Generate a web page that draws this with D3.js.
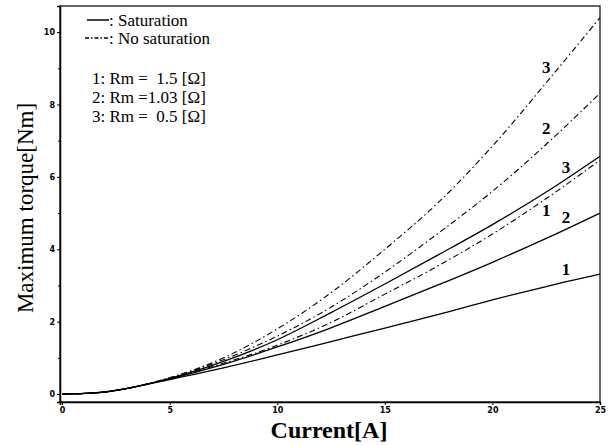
<!DOCTYPE html>
<html>
<head>
<meta charset="utf-8">
<script src="https://cdn.jsdelivr.net/npm/d3@7"></script>
<style>
  body { margin: 0; background: #fff; }
  svg { display: block; }
  .tick text { font-family: "DejaVu Sans", sans-serif; font-size: 8px; font-weight: bold; }
  .title { font-family: "Liberation Serif", serif; fill: #000; }
  .lbl { font-family: "Liberation Serif", serif; font-size: 17px; fill: #000; }
</style>
</head>
<body>
<div id="chart"></div>
<script>
// data
const current = [0, 1.5, 2.5, 5, 7.5, 10, 12.5, 15, 17.5, 20, 22.5, 25];
const sat1   = [0, 0.03, 0.1, 0.4, 0.72, 1.08, 1.45, 1.82, 2.2, 2.6, 2.97, 3.31];
const sat2   = [0, 0.03, 0.1, 0.42, 0.82, 1.3, 1.83, 2.42, 3.02, 3.64, 4.3, 5.0];
const sat3   = [0, 0.03, 0.1, 0.43, 0.9, 1.5, 2.25, 3.04, 3.85, 4.68, 5.58, 6.57];
const noSat1 = [0, 0.03, 0.1, 0.43, 0.85, 1.35, 1.98, 2.76, 3.55, 4.42, 5.4, 6.46];
const noSat2 = [0, 0.03, 0.1, 0.45, 0.95, 1.6, 2.4, 3.37, 4.45, 5.6, 6.9, 8.31];
const noSat3 = [0, 0.03, 0.1, 0.45, 1.0, 1.8, 2.8, 4.0, 5.3, 6.85, 8.6, 10.4];
const xTicks = [0, 5, 10, 15, 20, 25];
const yTicks = [0, 2, 4, 6, 8, 10];
const yMinor = [1, 3, 5, 7, 9];
const legendRm = ["1: Rm =  1.5 [\u03a9]", "2: Rm =1.03 [\u03a9]", "3: Rm =  0.5 [\u03a9]"];

const w = 612, h = 445;
const margin = { top: 6, right: 12, bottom: 43, left: 60 };
const width = w - margin.left - margin.right;
const height = h - margin.top - margin.bottom;

const x = d3.scaleLinear().domain([-0.1, 25]).range([0, width]);
const y = d3.scaleLinear().domain([-0.22, 10.72]).range([height, 0]);

const svg = d3.select("#chart").append("svg")
  .attr("width", w)
  .attr("height", h);

const chart = svg.append("g")
  .attr("transform", "translate(" + margin.left + "," + margin.top + ")");

// frame
chart.append("rect")
  .attr("width", width)
  .attr("height", height)
  .attr("fill", "none")
  .attr("stroke", "#000")
  .attr("stroke-width", 1.2);

const xAxis = d3.axisBottom(x).tickValues(xTicks).tickSize(3).tickPadding(2);
const yAxis = d3.axisLeft(y).tickValues(yTicks).tickSize(3).tickPadding(2);

chart.append("g")
  .attr("transform", "translate(0," + height + ")")
  .call(xAxis)
  .call(g => g.select(".domain").attr("stroke-width", 1.5));

chart.append("g")
  .call(yAxis)
  .call(g => g.select(".domain").attr("stroke-width", 1.5));

chart.append("g")
  .call(d3.axisLeft(y).tickValues(yMinor).tickSize(2).tickFormat(""))
  .call(g => g.select(".domain").remove());

// curves
const series = [
  { values: noSat3, dash: true,  label: "3", at: 22.5,  dy: -16 },
  { values: noSat2, dash: true,  label: "2", at: 22.5,  dy: -16 },
  { values: noSat1, dash: true,  label: "1", at: 22.5,  dy: 11 },
  { values: sat3,   dash: false, label: "3", at: 23.42, dy: -12 },
  { values: sat2,   dash: false, label: "2", at: 23.42, dy: -12 },
  { values: sat1,   dash: false, label: "1", at: 23.42, dy: -13 }
];

const line = d3.line()
  .x(d => x(d[0]))
  .y(d => y(d[1]))
  .curve(d3.curveMonotoneX);

series.forEach(s => {
  const pts = current.map((c, i) => [c, s.values[i]]);
  chart.append("path")
    .datum(pts)
    .attr("d", line)
    .attr("fill", "none")
    .attr("stroke", "#000")
    .attr("stroke-width", s.dash ? 1.1 : 1.3)
    .attr("stroke-dasharray", s.dash ? "6,3,1.5,3" : null);

  const yv = d3.scaleLinear().domain(current).range(s.values)(s.at);
  chart.append("text")
    .attr("class", "lbl")
    .attr("x", x(s.at))
    .attr("y", y(yv) + s.dy)
    .attr("dy", "0.35em")
    .attr("text-anchor", "middle")
    .style("font-weight", "bold")
    .style("font-size", "17px")
    .text(s.label);
});

// legend
const leg = svg.append("g");
leg.append("line").attr("x1", 87).attr("x2", 109).attr("y1", 20).attr("y2", 20)
  .attr("stroke", "#000").attr("stroke-width", 1.5);
leg.append("text").attr("class", "lbl").attr("x", 109).attr("y", 26).text(": Saturation");
leg.append("line").attr("x1", 85).attr("x2", 109).attr("y1", 38).attr("y2", 38)
  .attr("stroke", "#000").attr("stroke-width", 1.3).attr("stroke-dasharray", "4,2,1.5,2");
leg.append("text").attr("class", "lbl").attr("x", 109).attr("y", 44).text(": No saturation");

leg.selectAll(".rm")
  .data(legendRm)
  .enter()
  .append("text")
  .attr("class", "lbl")
  .attr("x", 92)
  .attr("y", (d, i) => 84 + i * 19)
  .attr("xml:space", "preserve")
  .style("white-space", "pre")
  .text(d => d);

// axis titles
svg.append("text")
  .attr("class", "title")
  .attr("x", 329)
  .attr("y", 438)
  .attr("text-anchor", "middle")
  .style("font-size", "24px")
  .style("font-weight", "bold")
  .text("Current[A]");

svg.append("text")
  .attr("class", "title")
  .attr("transform", "translate(33,208) rotate(-90)")
  .attr("text-anchor", "middle")
  .style("font-size", "23px")
  .text("Maximum torque[Nm]");
</script>
</body>
</html>
